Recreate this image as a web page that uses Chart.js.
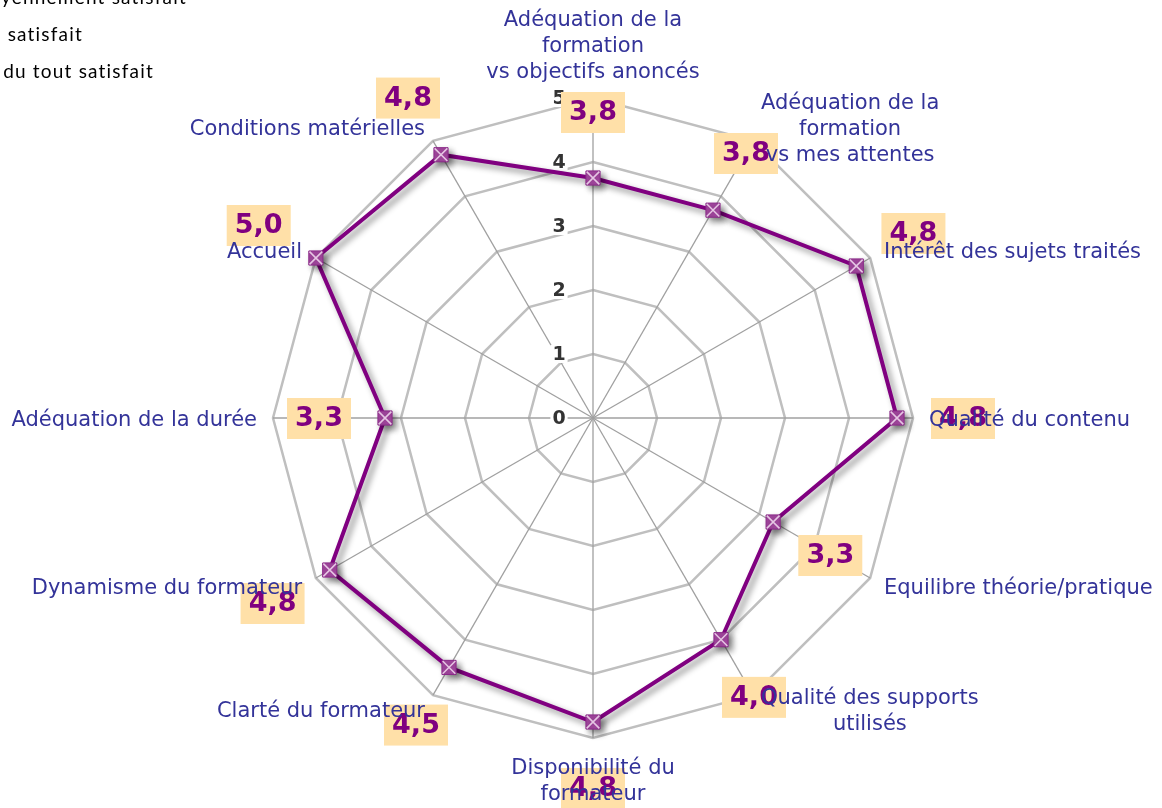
<!DOCTYPE html>
<html lang="fr">
<head>
<meta charset="UTF-8">
<title>Evaluation de la formation</title>
<script src="https://cdn.jsdelivr.net/npm/chart.js"></script>
<style>
  html, body { margin: 0; padding: 0; background: #fff; overflow: hidden; }
  canvas { display: block; }
</style>
</head>
<body>
<canvas id="radar" width="1162" height="808"></canvas>
<script>
// criteria, clockwise from the top
const categories = [
    ['Adéquation de la', 'formation', 'vs objectifs anoncés'],
    ['Adéquation de la', 'formation', 'vs mes attentes'],
    ['Intérêt des sujets traités'],
    ['Qualité du contenu'],
    ['Equilibre théorie/pratique'],
    ['Qualité des supports', 'utilisés'],
    ['Disponibilité du', 'formateur'],
    ['Clarté du formateur'],
    ['Dynamisme du formateur'],
    ['Adéquation de la durée'],
    ['Accueil'],
    ['Conditions matérielles']
];
// average scores (0..5)
const scores = [3.75, 3.75, 4.75, 4.75, 3.25, 4.0, 4.75, 4.5, 4.75, 3.25, 5.0, 4.75];
// legend entries (cut at the left edge in the original)
const legendLabels = ['Moyennement satisfait', 'Peu satisfait', 'Pas du tout satisfait'];

const PURPLE = '#800080';
const LABEL_BLUE = '#333399';
const fmt = v => v.toFixed(1).replace('.', ',');

// drop shadow under the series line
const shadowPlugin = {
    id: 'shadow',
    beforeDatasetDraw(chart, args) {
        if (args.index !== 0) return;
        const ctx = chart.ctx;
        ctx.save();
        ctx.shadowColor = 'rgba(0,0,0,0.45)';
        ctx.shadowBlur = 6;
        ctx.shadowOffsetX = 4;
        ctx.shadowOffsetY = 4;
    },
    afterDatasetDraw(chart, args) {
        if (args.index !== 0) return;
        chart.ctx.restore();
    }
};

// tick numbers left of the vertical axis
const tickPlugin = {
    id: 'ticksLeft',
    beforeDatasetsDraw(chart) {
        const ctx = chart.ctx, r = chart.scales.r;
        ctx.save();
        ctx.font = 'bold 19px "DejaVu Sans"';
        ctx.textAlign = 'center';
        ctx.textBaseline = 'middle';
        r.ticks.forEach(t => {
            const y = r.yCenter - r.getDistanceFromCenterForValue(t.value);
            const x = r.xCenter - 34;
            const w = ctx.measureText(String(t.value)).width;
            ctx.fillStyle = '#fff';
            ctx.fillRect(x - w / 2 - 2, y - 9, w + 4, 18);
            ctx.fillStyle = '#333333';
            ctx.fillText(String(t.value), x, y + 1);
        });
        ctx.restore();
    }
};

// value boxes, then criteria names, then the legend text
const labelPlugin = {
    id: 'labels',
    afterDatasetsDraw(chart) {
        const ctx = chart.ctx, r = chart.scales.r;
        ctx.save();

        // value boxes
        ctx.font = 'bold 27px "DejaVu Sans"';
        ctx.textAlign = 'center';
        ctx.textBaseline = 'middle';
        scores.forEach((v, i) => {
            const p = r.getPointPosition(i, r.getDistanceFromCenterForValue(v) + 66);
            ctx.fillStyle = '#FFE0A8';
            ctx.fillRect(p.x - 32, p.y - 20, 64, 41);
            ctx.fillStyle = PURPLE;
            ctx.fillText(fmt(v), p.x, p.y + 1);
        });

        // criteria names
        ctx.font = '21px "DejaVu Sans"';
        ctx.fillStyle = LABEL_BLUE;
        const lh = 26;
        const n = categories.length;
        categories.forEach((lines, i) => {
            const p = r.getPointPosition(i, r.drawingArea + 16);
            const w = Math.max(...lines.map(s => ctx.measureText(s).width));
            const h = lines.length * lh;
            let cx, top;
            if (i === 0) { cx = p.x; top = p.y - h + 4; }
            else if (i === n / 2) { cx = p.x; top = p.y + 2; }
            else if (i < n / 2) { cx = p.x + w / 2; top = p.y - h / 2 + 3; }
            else { cx = p.x - w / 2; top = p.y - h / 2 + 3; }
            lines.forEach((s, k) => ctx.fillText(s, cx, top + lh * (k + 0.5)));
        });

        // legend (partly outside the page)
        ctx.font = '19px Lato';
        ctx.letterSpacing = '1.2px';
        ctx.fillStyle = '#000';
        ctx.textAlign = 'right';
        ctx.textBaseline = 'alphabetic';
        const ends = [187, 83, 154];
        legendLabels.forEach((s, k) => ctx.fillText(s, ends[k], 4 + 37 * k));
        ctx.restore();
    }
};

new Chart(document.getElementById('radar'), {
    type: 'radar',
    data: {
        labels: categories,
        datasets: [{
            data: scores,
            order: 1,
            borderColor: PURPLE,
            backgroundColor: 'transparent',
            borderWidth: 4,
            fill: false,
            pointStyle: 'rect',
            pointRadius: 10,
            pointBackgroundColor: '#A3479F',
            pointBorderColor: '#8A2A88',
            pointBorderWidth: 1
        }, {
            data: scores,
            order: 0,
            showLine: false,
            fill: false,
            backgroundColor: 'transparent',
            borderColor: 'transparent',
            pointStyle: 'crossRot',
            pointRadius: 9,
            pointBorderColor: '#E6C6E4',
            pointBorderWidth: 1.5,
            pointBackgroundColor: 'transparent'
        }]
    },
    options: {
        responsive: false,
        animation: false,
        layout: { padding: { top: 98, bottom: 70, left: 24, right: 0 } },
        plugins: { legend: { display: false }, tooltip: { enabled: false } },
        scales: {
            r: {
                min: 0,
                max: 5,
                ticks: { display: false, stepSize: 1 },
                pointLabels: { display: false },
                grid: { circular: false, color: '#BFBFBF', lineWidth: 2.5 },
                angleLines: { color: '#A0A0A0', lineWidth: 1.3 }
            }
        }
    },
    plugins: [shadowPlugin, tickPlugin, labelPlugin]
});
</script>
</body>
</html>
